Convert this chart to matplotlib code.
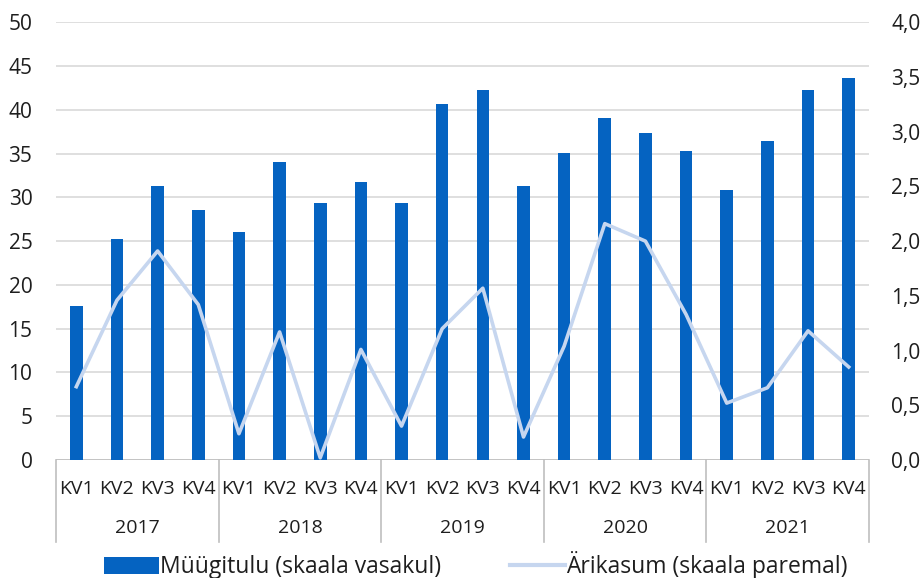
import numpy as np
import matplotlib.pyplot as plt
from matplotlib.patches import Patch
from matplotlib.lines import Line2D
from matplotlib.ticker import FuncFormatter

plt.rcParams['font.family'] = ['Open Sans', 'DejaVu Sans']
plt.rcParams['font.size'] = 15

years = ['2017', '2018', '2019', '2020', '2021']
quarters = ['KV1', 'KV2', 'KV3', 'KV4']
# Müügitulu (left axis)
sales = [17.6, 25.2, 31.3, 28.6,
         26.1, 34.0, 29.4, 31.8,
         29.4, 40.7, 42.3, 31.3,
         35.1, 39.1, 37.4, 35.3,
         30.8, 36.4, 42.3, 43.6]
# Ärikasum (right axis)
profit = [0.67, 1.46, 1.91, 1.42,
          0.24, 1.17, 0.02, 1.01,
          0.31, 1.20, 1.57, 0.21,
          1.04, 2.16, 2.00, 1.33,
          0.52, 0.66, 1.18, 0.85]

bar_color = '#0563c1'
line_color = '#c6d6ef'
txt = '#1e1e1e'

fig = plt.figure(figsize=(9.24, 5.78), dpi=100)
ax = fig.add_axes([0.0606, 0.2042, 0.8799, 0.7572])
ax2 = ax.twinx()

x = np.arange(len(sales))
ax.bar(x, sales, width=0.31, color=bar_color, zorder=2)
ax2.plot(x, profit, color=line_color, lw=2.6, zorder=3)

ax.set_xlim(-0.5, len(sales) - 0.5)
ax.set_ylim(0, 50)
ax.set_yticks(np.arange(0, 51, 5))
ax2.set_ylim(0, 4)
ax2.set_yticks(np.arange(0, 4.01, 0.5))
ax2.yaxis.set_major_formatter(FuncFormatter(lambda v, p: ('%.1f' % v).replace('.', ',')))

ax.grid(axis='y', color='#d9d9d9', lw=1.2, zorder=0)
ax.set_axisbelow(True)
for a in (ax, ax2):
    for s in ['top', 'left', 'right', 'bottom']:
        a.spines[s].set_visible(False)
ax.axhline(0, color='#bfbfbf', lw=1.2, zorder=1)

ax.tick_params(axis='y', length=0, pad=17, colors=txt, labelsize=15)
ax2.tick_params(axis='y', length=0, pad=16, colors=txt, labelsize=15)
ax.set_xticks([])

# two-level category axis
tr = ax.get_xaxis_transform()
for i, q in enumerate(quarters * len(years)):
    ax.text(x[i], -0.066, q, transform=tr, ha='center', va='center',
            color=txt, fontsize=14)
for b in np.arange(-0.5, len(sales), 4):
    ax.plot([b, b], [0, -0.187], transform=tr, color='#bfbfbf', lw=1.2, clip_on=False)
for i, yr in enumerate(years):
    ax.text(i * 4 + 1.5, -0.155, yr, transform=tr, ha='center', va='center',
            color=txt, fontsize=14)

handles = [Patch(facecolor=bar_color, edgecolor='none'),
           Line2D([0], [0], color=line_color, lw=3)]
fig.legend(handles, ['Müügitulu (skaala vasakul)', 'Ärikasum (skaala paremal)'],
           loc='center', bbox_to_anchor=(0.515, 0.022), ncol=2, frameon=False,
           fontsize=16.5, handlelength=2.4, handleheight=0.75, handletextpad=0.05,
           columnspacing=3.0, labelcolor=txt)

fig.savefig('out.png', dpi=100)
